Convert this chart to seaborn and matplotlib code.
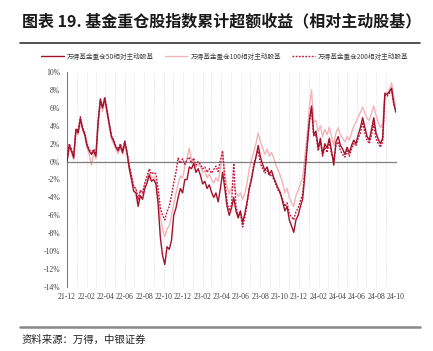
import pandas as pd
import matplotlib
matplotlib.use('Agg')
import matplotlib.pyplot as plt
import matplotlib.dates as mdates
import matplotlib.ticker as mticker
import seaborn as sns

# 周度数据，从原图读出（单位 %），起点 2021-12-01
dates = pd.date_range('2021-12-01', periods=149, freq='7D')

s50 = [0.0, 1.8, 1.2, 0.5, 3.5, 3.2, 4.8, 3.7, 3.0, 1.8,
       1.2, 0.8, 1.2, 0.6, 4.5, 7.0, 6.0, 7.1, 5.6, 4.2,
       2.8, 2.3, 1.6, 1.2, 1.8, 1.0, 2.2, 1.0, -0.8, -2.0,
       -3.3, -3.5, -5.0, -3.8, -4.2, -3.0, -2.4, -1.5, -2.2, -2.0,
       -2.5, -4.8, -8.5, -10.5, -11.5, -9.5, -9.8, -8.8, -6.0, -5.2,
       -4.0, -3.0, -3.5, -2.0, -2.0, -0.6, -0.8, -0.2, -1.2, -0.8,
       -1.5, -2.5, -2.2, -3.0, -2.6, -3.4, -4.0, -3.5, -4.5, -3.0,
       -1.2, -3.0, -5.0, -6.0, -5.2, -4.0, -5.5, -6.3, -5.5, -6.8,
       -5.8, -4.5, -3.0, -2.0, -0.6, 0.5, 1.8, 0.5, -0.3, -1.0,
       -0.6, -1.4, -1.0, -1.8, -2.4, -3.0, -3.5, -4.5, -5.5, -5.0,
       -6.5, -7.2, -7.9, -6.5, -6.0, -5.0, -4.2, -1.5, 1.5, 4.5,
       6.2, 3.0, 3.4, 1.5, 2.6, 0.8, 2.0, 1.5, 2.6, 1.2,
       -0.4, 2.2, 2.8, 1.8, 1.4, 0.8, 1.6, 1.0, 1.8, 2.4,
       2.0, 3.0, 3.8, 4.9, 3.8, 2.8, 2.4, 3.6, 4.9, 3.2,
       2.5, 2.0, 2.6, 7.6, 7.5, 7.8, 8.2, 6.5, 5.5]

s100 = [0.0, 1.5, 1.0, 0.2, 3.2, 3.0, 4.5, 3.5, 2.8, 1.5,
        0.8, -0.4, 1.0, 0.3, 4.0, 6.6, 5.6, 6.8, 5.4, 3.8,
        2.5, 2.0, 1.4, 0.9, 1.6, 0.8, 1.9, 0.8, -0.5, -1.5,
        -2.8, -3.0, -4.4, -3.2, -3.6, -2.5, -2.0, -1.2, -1.8, -1.7,
        -2.0, -3.8, -6.2, -7.6, -8.4, -7.5, -7.2, -6.0, -4.8, -3.6,
        -2.5, -1.6, -1.8, -0.6, 0.4, 1.5, 0.2, 0.0, -0.6, -0.3,
        -0.5, -1.2, -1.0, -1.8, -1.4, -2.0, -2.4, -1.8, -2.2, -0.8,
        0.9, -1.5, -2.8, -3.6, -3.0, -2.6, -3.4, -3.9, -3.5, -4.2,
        -3.6, -2.4, -0.8, 0.2, 1.0, 2.0, 3.2, 2.2, 1.5, 0.8,
        1.4, 0.6, 1.0, 0.4, -0.4, -1.0, -1.6, -2.4, -3.5, -3.0,
        -4.0, -4.6, -5.0, -3.8, -3.2, -2.5, -1.8, 0.5, 3.0, 6.0,
        8.0, 4.4, 4.6, 3.4, 4.0, 2.8, 3.6, 3.0, 3.8, 2.8,
        1.8, 3.2, 3.8, 3.0, 2.6, 2.2, 2.8, 2.4, 3.2, 4.0,
        4.4, 5.0, 5.5, 6.1, 5.4, 4.8, 4.6, 5.4, 6.2, 5.2,
        4.4, 3.8, 4.2, 7.7, 7.6, 8.0, 8.8, 7.2, 6.2]

s200 = [0.0, 2.0, 1.4, 0.4, 3.7, 3.4, 5.0, 3.8, 3.2, 2.0,
        1.4, 0.9, 1.4, 0.8, 4.4, 6.8, 6.1, 7.2, 5.8, 4.3,
        2.9, 2.4, 1.7, 1.4, 2.0, 1.2, 2.3, 1.1, -0.4, -1.6,
        -2.8, -3.0, -4.2, -3.2, -3.5, -2.4, -1.6, -0.8, -1.4, -1.2,
        -1.4, -3.0, -5.2, -6.0, -6.5, -5.6, -5.0, -3.8, -2.4, -1.2,
        0.4, -0.2, 0.3, -0.3, 0.2, 0.5, -0.2, 0.4, -0.4, 0.0,
        -0.3, -0.8, -0.6, -1.2, -0.8, -1.3, -0.9, -0.5, -1.1, 0.2,
        1.2, -2.0, -4.5, -5.5, -4.8, -0.2, -5.0, -6.0, -5.8, -7.3,
        -6.2, -4.8, -3.0, -1.8, -0.4, 0.6, 1.2, -0.2, -0.8, -1.3,
        -1.0, -1.6, -1.4, -2.0, -2.6, -3.2, -3.6, -4.2, -5.0, -4.6,
        -5.8, -6.2, -6.5, -5.6, -5.2, -4.4, -3.6, -1.0, 1.8, 4.2,
        6.0, 2.8, 3.0, 1.2, 2.2, 0.6, 1.6, 1.0, 2.2, 0.8,
        0.2, 1.8, 2.2, 1.2, 0.8, 0.5, 1.2, 0.6, 1.4, 2.0,
        1.8, 2.6, 3.2, 4.4, 3.2, 2.4, 2.0, 3.0, 4.2, 2.6,
        2.0, 1.6, 2.2, 7.4, 7.3, 7.6, 8.0, 6.4, 5.4]

names = ['万得基金重仓50相对主动股基', '万得基金重仓100相对主动股基', '万得基金重仓200相对主动股基']
colors = ['#A3122B', '#F2B3BA', '#C4163C']
styles = ['-', '-', (0, (1.3, 1.0))]
widths = [1.0, 1.0, 1.0]
zorders = [4, 2, 3]

sns.set_style('white')
plt.rcParams['font.family'] = ['Noto Sans CJK SC', 'DejaVu Sans']
plt.rcParams['axes.unicode_minus'] = False

fig = plt.figure(figsize=(4.33, 3.51), dpi=100)
ax = fig.add_axes([67 / 433, 1 - 287 / 351, 329 / 433, 215 / 351])

for vals, name, c, ls, lw, z in zip([s50, s100, s200], names, colors, styles, widths, zorders):
    sns.lineplot(x=dates, y=vals, ax=ax, color=c, linewidth=lw, label=name, zorder=z)
    ax.lines[-1].set_linestyle(ls)

ax.set_xlim(pd.Timestamp('2021-12-01'), dates[-1])
ax.set_ylim(-14, 10)
ax.set_yticks(range(-14, 11, 2))
ax.yaxis.set_major_formatter(mticker.FuncFormatter(lambda v, _: f'{v:.0f}%'))
ax.set_xlabel('')
ax.set_ylabel('')

ax.xaxis.set_major_locator(mdates.MonthLocator(bymonth=[2, 4, 6, 8, 10, 12]))
ax.xaxis.set_minor_locator(mdates.MonthLocator())
ax.grid(axis='x', which='both', color='#dcdcdc', linestyle=(0, (2, 2)), linewidth=0.5)
ax.set_axisbelow(True)

for s in ['top', 'right']:
    ax.spines[s].set_visible(False)
ax.spines['left'].set_color('#7f7f7f')
ax.spines['left'].set_linewidth(0.8)
ax.spines['bottom'].set_position(('data', 0))
ax.spines['bottom'].set_color('#7f7f7f')
ax.spines['bottom'].set_linewidth(0.9)
ax.tick_params(axis='x', which='major', direction='out', length=3, color='#7f7f7f',
               labelbottom=False)
ax.tick_params(axis='x', which='minor', length=0)
ax.tick_params(axis='y', direction='out', length=3, color='#7f7f7f', pad=2,
               labelsize=5.5, labelcolor='#404040')
for t in ax.get_yticklabels():
    t.set_family('Liberation Serif')

# 日期标签放在底部
sec = ax.secondary_xaxis('bottom')
sec.xaxis.set_major_locator(mdates.MonthLocator(bymonth=[2, 4, 6, 8, 10, 12]))
sec.xaxis.set_major_formatter(mdates.DateFormatter('%y-%m'))
sec.spines['bottom'].set_visible(False)
sec.tick_params(length=0, pad=4, labelsize=5.5, labelcolor='#404040')
for t in sec.get_xticklabels():
    t.set_family('Liberation Serif')

ax.legend(loc='lower center', bbox_to_anchor=(0.48, 1.025), ncol=3, frameon=False,
          fontsize=4.8, handlelength=3.4, columnspacing=1.6, handletextpad=0.5,
          labelcolor='#404040')

fig.text(22 / 433, 1 - 21 / 351, '图表 19. 基金重仓股指数累计超额收益（相对主动股基）',
         fontsize=11.5, fontweight='bold', va='center', ha='left', color='#1a1a1a')
fig.add_artist(plt.Line2D([20 / 433, 420 / 433], [1 - 43 / 351] * 2, color='#333333', lw=1.2))
fig.add_artist(plt.Line2D([20 / 433, 420 / 433], [1 - 327 / 351] * 2, color='#888888', lw=1.8))
fig.text(22 / 433, 1 - 340 / 351, '资料来源：万得，中银证券', fontsize=7.5,
         va='center', ha='left', color='#222222')

fig.savefig('out.png', dpi=100)
